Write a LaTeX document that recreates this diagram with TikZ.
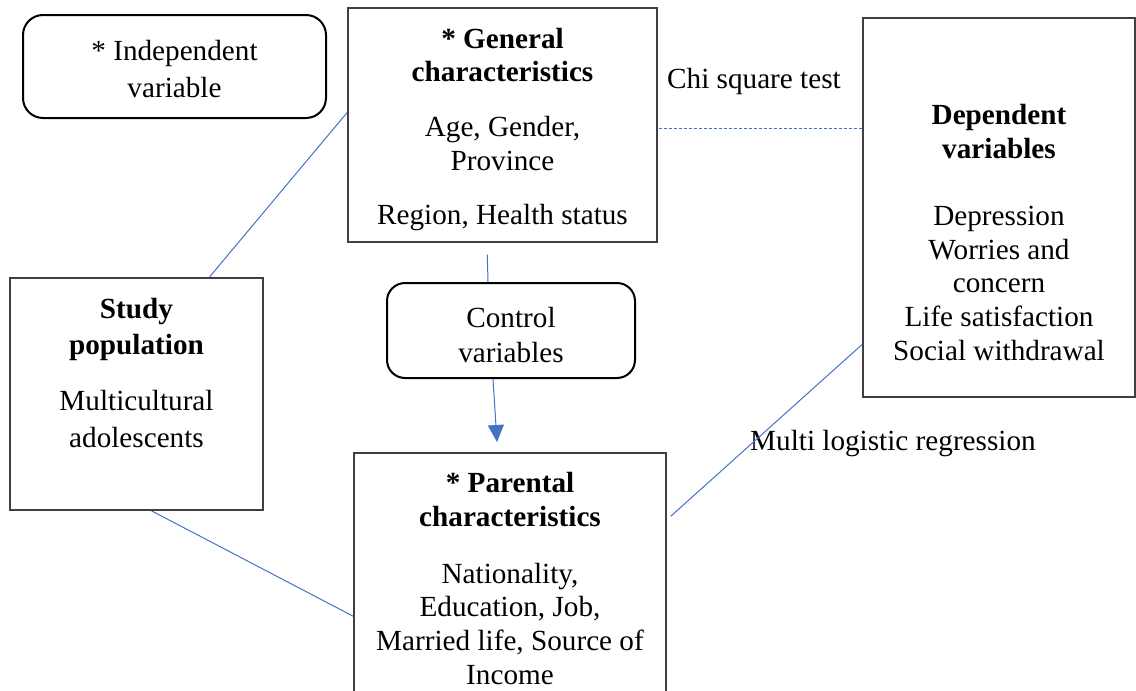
\documentclass[tikz,border=0pt]{standalone}
\usepackage{fontspec}
\setmainfont{Liberation Serif}
\usetikzlibrary{calc,arrows.meta}
\definecolor{lineblue}{HTML}{4472C4}
\definecolor{boxgray}{HTML}{404040}
\tikzset{
  rectbox/.style={draw=boxgray, line width=1.4pt, inner sep=0pt},
  roundbox/.style={draw=black, line width=2pt, rounded corners=20pt, inner sep=0pt},
  txt/.style={align=center, inner sep=0pt, anchor=north, font=\fontsize{29.2}{33.6}\selectfont},
  lbl/.style={inner sep=0pt, anchor=base west, font=\fontsize{29.2}{33.6}\selectfont},
  conn/.style={draw=lineblue, line width=1pt},
}
\begin{document}
\begin{tikzpicture}[x=1pt,y=-1pt]
\useasboundingbox (0,0) rectangle (1136,691);
% boxes
\node[roundbox, minimum width=303pt, minimum height=103pt] (ind) at (174.5,66.5) {};
\node[rectbox, minimum width=309pt, minimum height=234pt] (gen) at (502.5,125) {};
\node[rectbox, minimum width=272pt, minimum height=379pt] (dep) at (999,207.5) {};
\node[rectbox, minimum width=253pt, minimum height=232pt] (study) at (136.5,394) {};
\node[roundbox, rounded corners=18pt, minimum width=248pt, minimum height=95pt] (ctrl) at (511,330.5) {};
\node[rectbox, minimum width=312pt, minimum height=250pt] (par) at (510,578) {};
% texts
\node[txt] (indt) at (174.5,36.5) {\strut* Independent\\[4pt]variable};
\node[txt] (gent) at (502.5,24.5) {\strut\textbf{* General}\\\textbf{characteristics}\\[21pt]Age, Gender,\\Province\\[21pt]Region, Health status};
\node[txt] (dept) at (999,101.2) {\strut\textbf{Dependent}\\\textbf{variables}\\[33.6pt]Depression\\Worries and\\concern\\Life satisfaction\\Social withdrawal};
\node[txt] (studyt) at (136.5,294.5) {\strut\textbf{Study}\\[2.5pt]\textbf{population}\\[23pt]Multicultural\\[2.5pt]adolescents};
\node[txt] (ctrlt) at (511,304) {\strut Control\\[1.5pt]variables};
\node[txt] (part) at (510,468.5) {\strut\textbf{* Parental}\\[0.9pt]\textbf{characteristics}\\[22.9pt]Nationality,\\Education, Job,\\Married life, Source of\\Income};
\node[lbl] (chi) at (667,88) {Chi square test};
\node[lbl] (mlr) at (750,450) {Multi logistic regression};
% connectors
\draw[conn] ($(study.north west)+(200,0)$) -- ($(gen.north west)+(0,105)$);
\draw[conn] ($(study.south west)+(142,0)$) -- ($(par.north west)+(0,164)$);
\draw[conn, dash pattern=on 3pt off 2pt] ($(gen.north east)+(1,121)$) -- ($(dep.north west)+(0,111)$);
\draw[conn] ($(par.north east)+(4,64)$) -- ($(dep.north west)+(0,327)$);
\draw[conn] ($(gen.south west)+(140,12)$) -- ($(ctrl.north west)+(102,0)$);
\coordinate (tip) at (497,442);
\draw[conn, -{Triangle[width=16pt,length=17pt]}] ($(ctrl.south west)+(107,0)$) -- (tip);
\end{tikzpicture}
\end{document}
